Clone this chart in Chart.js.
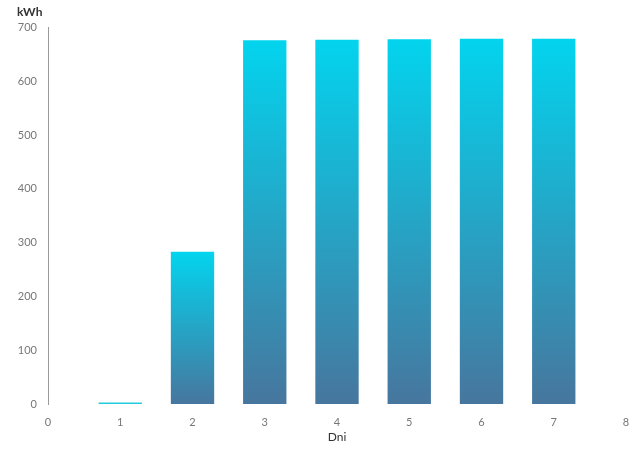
<!DOCTYPE html>
<html>
<head>
<meta charset="utf-8">
<script src="https://cdn.jsdelivr.net/npm/chart.js@4"></script>
<style>
  html, body { margin: 0; padding: 0; background: #fff; }
  #wrap { width: 638px; height: 449px; }
</style>
</head>
<body>
<div id="wrap"><canvas id="energyChart"></canvas></div>
<script>
// --- data ---
const days = [1, 2, 3, 4, 5, 6, 7];
const energyKwh = [3, 283, 676, 677, 678, 679, 679];
const xTicks = [0, 1, 2, 3, 4, 5, 6, 7, 8];
const yTicks = [0, 100, 200, 300, 400, 500, 600, 700];

const TOP_COLOR = '#03d4ee';
const BOTTOM_COLOR = '#47769e';

// each bar gets its own gradient, top cyan -> bottom blue
function barGradient(context) {
    const chart = context.chart;
    if (!chart.chartArea || context.dataIndex === undefined) return TOP_COLOR;
    const y = chart.scales.y;
    const top = y.getPixelForValue(energyKwh[context.dataIndex]);
    const base = y.getPixelForValue(0);
    if (base - top < 4) return '#22cde0'; // tiny bar: just the top tint
    const g = chart.ctx.createLinearGradient(0, top, 0, base);
    g.addColorStop(0, TOP_COLOR);
    g.addColorStop(1, BOTTOM_COLOR);
    return g;
}

const ctx = document.getElementById('energyChart').getContext('2d');
new Chart(ctx, {
    type: 'bar',
    data: {
        datasets: [{
            label: 'kWh',
            data: days.map((d, i) => ({ x: d, y: energyKwh[i] })),
            backgroundColor: barGradient,
            borderWidth: 0,
            barPercentage: 0.6,
            categoryPercentage: 1.0
        }]
    },
    options: {
        responsive: true,
        maintainAspectRatio: false,
        animation: false,
        layout: { padding: { left: 17, right: 12, top: 0, bottom: 0 } },
        plugins: {
            legend: { display: false },
            tooltip: { enabled: false },
            title: {
                display: true,
                text: 'kWh',
                align: 'start',
                color: '#333',
                font: { family: 'Lato', size: 12, weight: 'bold' },
                padding: { top: 5, bottom: 8 }
            }
        },
        scales: {
            x: {
                type: 'linear',
                offset: false,
                min: 0,
                max: 8,
                afterBuildTicks: s => { s.ticks = xTicks.map(v => ({ value: v })); },
                afterFit: s => { s.height = 45; s.paddingRight = 0; s.paddingLeft = 0; },
                grid: { display: false, drawTicks: false, tickLength: 0, offset: false },
                border: { display: false },
                ticks: { color: '#777', padding: 12, font: { family: 'Lato', size: 11 } },
                title: {
                    display: true,
                    text: 'Dni',
                    color: '#333',
                    font: { family: 'Lato', size: 12 },
                    padding: { top: 0, bottom: 5 }
                }
            },
            y: {
                min: 0,
                max: 700,
                afterBuildTicks: s => { s.ticks = yTicks.map(v => ({ value: v })); },
                afterFit: s => { s.width = 31; },
                grid: { display: false, drawTicks: false, tickLength: 0 },
                border: { display: true, color: '#9a9a9a', width: 1 },
                ticks: { color: '#777', padding: 11, font: { family: 'Lato', size: 11 } }
            }
        }
    }
});
</script>
</body>
</html>
